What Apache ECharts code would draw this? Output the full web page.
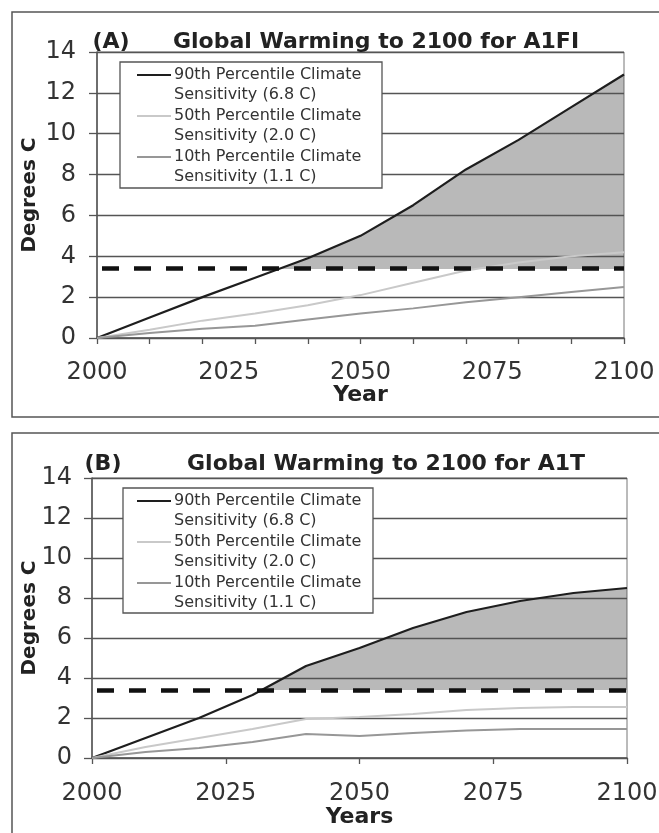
<!DOCTYPE html>
<html>
<head>
<meta charset="utf-8">
<title>Global Warming to 2100</title>
<script src="https://cdn.jsdelivr.net/npm/echarts@6/dist/echarts.min.js"></script>
<style>
  html, body { margin: 0; padding: 0; background: #fff; }
  #chart { width: 659px; height: 833px; }
</style>
</head>
<body>
<div id="chart"></div>
<script>
// Projected warming (degrees C above 2000) for two emission scenarios
const years = [2000, 2010, 2020, 2030, 2040, 2050, 2060, 2070, 2080, 2090, 2100];

// Scenario A1FI
const a1fi90 = [0, 1.0, 2.0, 2.95, 3.9, 5.0, 6.5, 8.25, 9.7, 11.3, 12.9];
const a1fi50 = [0, 0.4, 0.85, 1.2, 1.6, 2.1, 2.7, 3.3, 3.7, 4.0, 4.2];
const a1fi10 = [0, 0.25, 0.45, 0.6, 0.9, 1.2, 1.45, 1.75, 2.0, 2.25, 2.5];

// Scenario A1T
const a1t90 = [0, 1.0, 2.0, 3.15, 4.6, 5.5, 6.5, 7.3, 7.85, 8.25, 8.5];
const a1t50 = [0, 0.55, 1.0, 1.45, 1.95, 2.05, 2.2, 2.4, 2.5, 2.55, 2.55];
const a1t10 = [0, 0.3, 0.5, 0.8, 1.2, 1.1, 1.25, 1.38, 1.45, 1.45, 1.45];

// Dangerous-warming threshold (dashed line)
const threshold = 3.4;

// Legend entries
const legendNames = [
  '90th Percentile Climate\nSensitivity (6.8 C)',
  '50th Percentile Climate\nSensitivity (2.0 C)',
  '10th Percentile Climate\nSensitivity (1.1 C)'
];
const lineColors = ['#1e1e1e', '#c9c9c9', '#979797'];

// Axis settings
const yMin = 0, yMax = 14, yStep = 2;
const xMin = 2000, xMax = 2100, xLabelStep = 25, xTickStepA = 10;

const FONT = '"DejaVu Sans", "Liberation Sans", sans-serif';
const fillColor = 'rgba(80,80,80,0.40)';
const gridColor = '#555';

const pairs = arr => years.map((y, i) => [y, arr[i]]);

function yAxisCfg(gridIndex, labelMargin, nameGap) {
  return {
    type: 'value', gridIndex, min: yMin, max: yMax, interval: yStep,
    name: 'Degrees C', nameLocation: 'middle', nameGap, nameMoveOverlap: false,
    nameTextStyle: { fontFamily: FONT, fontWeight: 'bold', fontSize: 20, color: '#222' },
    axisLine: { show: true, lineStyle: { color: gridColor, width: 1.5 } },
    axisTick: { show: true, inside: false, length: 8, lineStyle: { color: gridColor, width: 1.3 } },
    axisLabel: { fontFamily: FONT, fontSize: 24, color: '#333', margin: labelMargin },
    splitLine: { show: true, lineStyle: { color: gridColor, width: 1.3 } }
  };
}

function lineSeries(name, data, color, xi, yi, width) {
  return {
    type: 'line', name, data: pairs(data), xAxisIndex: xi, yAxisIndex: yi,
    showSymbol: false, symbol: 'none', silent: true, z: 3,
    lineStyle: { color, width },
    emphasis: { disabled: true }
  };
}

// Shaded region: area under the curve, visible only above the threshold.
// The area polygon spans from 0 up to the series maximum, so the vertical
// gradient switches from shaded to clear at the threshold's relative position.
function fillSeries(data, xi, yi) {
  const top = Math.max(...data);
  const cut = (top - threshold) / (top - yMin);
  return {
    type: 'line', data: pairs(data), xAxisIndex: xi, yAxisIndex: yi,
    showSymbol: false, symbol: 'none', silent: true, z: 2,
    lineStyle: { width: 0 },
    areaStyle: {
      opacity: 1,
      origin: 'start',
      color: {
        type: 'linear', x: 0, y: 0, x2: 0, y2: 1,
        colorStops: [
          { offset: 0, color: fillColor },
          { offset: cut, color: fillColor },
          { offset: cut, color: 'rgba(255,255,255,0)' },
          { offset: 1, color: 'rgba(255,255,255,0)' }
        ]
      }
    },
    emphasis: { disabled: true },
    markLine: {
      silent: true, symbol: ['none', 'none'], label: { show: false },
      lineStyle: { color: '#111', width: 4.5, type: [17, 15], dashOffset: 27 },
      emphasis: { disabled: true },
      data: [{ yAxis: threshold }]
    }
  };
}

function legendGraphic(x0, y0, w, h, textX, rowGap) {
  const els = [{
    type: 'rect', z: 100,
    shape: { x: x0, y: y0, width: w, height: h },
    style: { fill: '#fff', stroke: '#555', lineWidth: 1.3 }
  }];
  legendNames.forEach((nm, i) => {
    const cy = y0 + 13 + i * rowGap;
    els.push({
      type: 'line', z: 101,
      shape: { x1: 137, y1: cy, x2: textX - 3, y2: cy },
      style: { stroke: lineColors[i], lineWidth: 2 }
    });
    els.push({
      type: 'text', z: 101,
      style: {
        text: nm, x: textX, y: cy - 10, fill: '#333',
        fontFamily: FONT, fontSize: 16, lineHeight: 20,
        align: 'left', verticalAlign: 'top'
      }
    });
  });
  return els;
}

function titleGraphic(tag, tagX, text, cx, cy) {
  return [
    { type: 'text', z: 100, style: { text: tag, x: tagX, y: cy, fill: '#222', fontFamily: FONT, fontWeight: 'bold', fontSize: 22, align: 'center', verticalAlign: 'middle' } },
    { type: 'text', z: 100, style: { text, x: cx, y: cy, fill: '#222', fontFamily: FONT, fontWeight: 'bold', fontSize: 22, align: 'center', verticalAlign: 'middle' } }
  ];
}

const yearLabel = v => String(v);

const chart = echarts.init(document.getElementById('chart'), null, { renderer: 'canvas' });

chart.setOption({
  animation: false,
  backgroundColor: '#fff',
  textStyle: { fontFamily: FONT },
  grid: [
    { left: 97, right: 35, top: 52, height: 286, show: true, borderColor: '#777', borderWidth: 1, backgroundColor: 'transparent', outerBoundsMode: 'none' },
    { left: 92, right: 32, top: 478, height: 280, show: true, borderColor: '#777', borderWidth: 1, backgroundColor: 'transparent', outerBoundsMode: 'none' }
  ],
  xAxis: [
    // panel A: tick marks every 10 years
    { type: 'value', gridIndex: 0, position: 'bottom', min: xMin, max: xMax, interval: xTickStepA,
      axisLine: { show: true, onZero: false, lineStyle: { color: gridColor, width: 1.5 } },
      axisTick: { show: true, length: 6, lineStyle: { color: gridColor, width: 1.3 } },
      axisLabel: { show: false }, splitLine: { show: false } },
    // panel A: year labels every 25 years
    { type: 'value', gridIndex: 0, position: 'bottom', min: xMin, max: xMax, interval: xLabelStep,
      name: 'Year', nameLocation: 'middle', nameGap: 46, nameMoveOverlap: false,
      nameTextStyle: { fontFamily: FONT, fontWeight: 'bold', fontSize: 22, color: '#222' },
      axisLine: { show: false }, axisTick: { show: false },
      axisLabel: { fontFamily: FONT, fontSize: 24, color: '#333', margin: 23, formatter: yearLabel },
      splitLine: { show: false } },
    // panel B
    { type: 'value', gridIndex: 1, position: 'bottom', min: xMin, max: xMax, interval: xLabelStep,
      name: 'Years', nameLocation: 'middle', nameGap: 48, nameMoveOverlap: false,
      nameTextStyle: { fontFamily: FONT, fontWeight: 'bold', fontSize: 22, color: '#222' },
      axisLine: { show: true, onZero: false, lineStyle: { color: gridColor, width: 1.5 } },
      axisTick: { show: true, length: 6, lineStyle: { color: gridColor, width: 1.3 } },
      axisLabel: { fontFamily: FONT, fontSize: 24, color: '#333', margin: 24, formatter: yearLabel },
      splitLine: { show: false } }
  ],
  yAxis: [yAxisCfg(0, 21, 57), yAxisCfg(1, 20, 52)],
  series: [
    fillSeries(a1fi90, 0, 0),
    lineSeries(legendNames[0], a1fi90, lineColors[0], 0, 0, 2.2),
    lineSeries(legendNames[1], a1fi50, lineColors[1], 0, 0, 2),
    lineSeries(legendNames[2], a1fi10, lineColors[2], 0, 0, 2),
    fillSeries(a1t90, 2, 1),
    lineSeries(legendNames[0], a1t90, lineColors[0], 2, 1, 2.2),
    lineSeries(legendNames[1], a1t50, lineColors[1], 2, 1, 2),
    lineSeries(legendNames[2], a1t10, lineColors[2], 2, 1, 2)
  ],
  graphic: [
    { type: 'rect', z: 0, silent: true, shape: { x: 12, y: 12, width: 660, height: 405 }, style: { fill: 'none', stroke: '#555', lineWidth: 1.5 } },
    { type: 'rect', z: 0, silent: true, shape: { x: 12, y: 433, width: 660, height: 420 }, style: { fill: 'none', stroke: '#555', lineWidth: 1.5 } },
    ...titleGraphic('(A)', 111, 'Global Warming to 2100 for A1FI', 376, 42),
    ...titleGraphic('(B)', 103, 'Global Warming to 2100 for A1T', 386, 464),
    ...legendGraphic(120, 62, 262, 126, 174, 41),
    ...legendGraphic(123, 488, 250, 125, 174, 41)
  ]
});
</script>
</body>
</html>
